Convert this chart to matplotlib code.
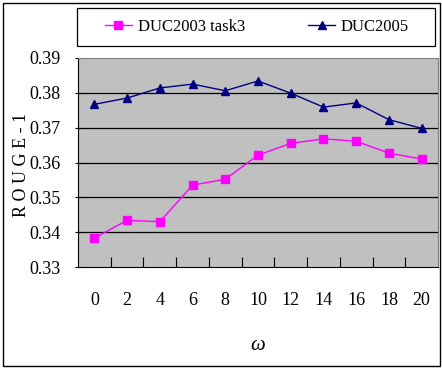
import matplotlib
matplotlib.use("Agg")
import matplotlib.pyplot as plt
from matplotlib.patches import Rectangle

omega = [0, 2, 4, 6, 8, 10, 12, 14, 16, 18, 20]
duc2003_task3 = [0.3383, 0.3434, 0.3430, 0.3535, 0.3552, 0.3621,
                 0.3655, 0.3668, 0.3661, 0.3627, 0.3610]
duc2005 = [0.3767, 0.3785, 0.3814, 0.3825, 0.3806, 0.3834,
           0.3799, 0.3759, 0.3771, 0.3723, 0.3698]
y_ticks = [0.33, 0.34, 0.35, 0.36, 0.37, 0.38, 0.39]

plt.rcParams['font.family'] = ['Liberation Serif', 'DejaVu Serif']

W, H = 442, 369
fig = plt.figure(figsize=(W / 100, H / 100), dpi=100)
fig.patch.set_facecolor('white')
# outer chart frame
fig.add_artist(Rectangle((3 / W, 3 / H), 437 / W, 363 / H,
                         transform=fig.transFigure, fill=False,
                         edgecolor='black', linewidth=1.0))

ax = fig.add_axes([78 / W, 1 - 267 / H, 360 / W, 209 / H])
ax.set_facecolor('#C0C0C0')

x = list(range(len(omega)))
ax.plot(x, duc2003_task3, color='#FF00FF', marker='s', markersize=5.5,
        linewidth=1.0, label='DUC2003 task3', zorder=3)
ax.plot(x, duc2005, color='#000080', marker='^', markersize=6,
        linewidth=1.0, label='DUC2005', zorder=3)

ax.set_xlim(-0.5, len(omega) - 0.5)
ax.set_ylim(0.33, 0.39)
ax.set_yticks(y_ticks)
ax.set_yticklabels([f'{v:.2f}' for v in y_ticks], fontsize=13)
for v in y_ticks[1:-1]:
    ax.axhline(v, color='black', linewidth=0.9, zorder=1)

# category boundaries as ticks, labels at category centres
ax.set_xticks([i + 0.5 for i in range(len(omega) - 1)])
ax.set_xticklabels([])
ax.tick_params(axis='x', direction='in', length=7, width=0.8, color='black')
ax.tick_params(axis='y', direction='inout', length=5, width=0.8, pad=10)
for i, w in enumerate(omega):
    ax.text(i, -0.16, str(w), transform=ax.get_xaxis_transform(),
            ha='center', va='center', fontsize=13)

for side in ('top', 'right'):
    ax.spines[side].set_color('#808080')
for side in ('left', 'bottom'):
    ax.spines[side].set_color('black')

fig.text(22 / W, 1 - 165 / H, 'R O U G E - 1', rotation=90,
         ha='center', va='center', fontsize=13)
fig.text(258 / W, 1 - 345 / H, 'ω', ha='center', va='center',
         fontsize=15, fontstyle='italic')

# legend box
fig.add_artist(Rectangle((77 / W, 1 - 46 / H), 358 / W, 38 / H,
                         transform=fig.transFigure, fill=False,
                         edgecolor='black', linewidth=0.9))
fig.legend(loc='center', bbox_to_anchor=(257 / W, 1 - 27 / H),
           ncol=2, frameon=False, fontsize=12, handlelength=1.6,
           handletextpad=0.35, columnspacing=3.8)

fig.savefig('out.png', dpi=100)
